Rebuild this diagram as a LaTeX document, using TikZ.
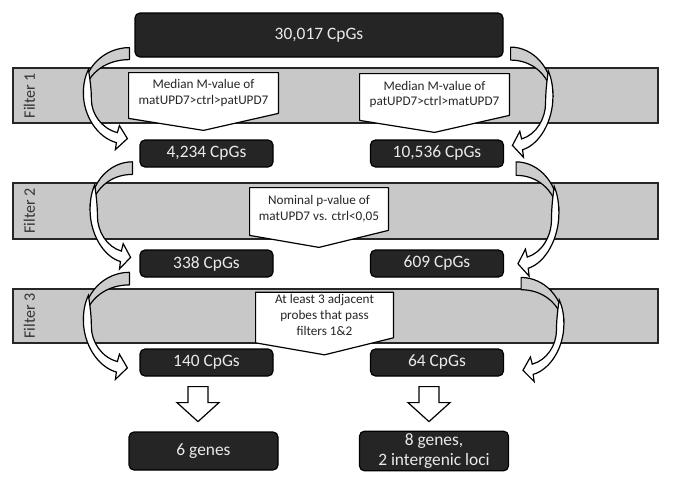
\documentclass[tikz,border=0pt]{standalone}
\usepackage{fontspec}
\setmainfont{Carlito}
\usetikzlibrary{calc,backgrounds}
\definecolor{boxdark}{HTML}{252525}
\definecolor{bargray}{HTML}{C8C8C8}
\definecolor{boxtext}{HTML}{EAEAEA}
\tikzset{
  cpgbox/.style={rectangle, rounded corners=2.5pt, draw=black, fill=boxdark, text=boxtext, line width=0.6pt, minimum width=66.5pt, minimum height=13.5pt, inner sep=1pt, font=\fontsize{8.7}{10.4}\selectfont},
  genebox/.style={cpgbox, minimum width=74.5pt, minimum height=19pt, align=center},
  filterbar/.style={rectangle, draw=black!85, fill=bargray, line width=0.7pt, minimum width=322.5pt, minimum height=27.5pt},
  filterlabel/.style={rotate=90, text=black!80, font=\fontsize{8}{9.6}\selectfont},
  criterion/.style={rectangle, inner sep=1pt, align=center, text=black!85, font=\fontsize{6.6}{7.9}\selectfont},
  calloutshape/.style={draw=black, fill=white, line width=0.6pt, line join=round},
  arrowback/.style={draw=black, fill=bargray!90!white, line width=0.6pt, line join=round},
  arrowfront/.style={draw=black, fill=white, line width=0.6pt, line join=miter},
  blockarr/.style={draw=black, fill=white, line width=0.6pt, line join=miter},
  bendarrow/.pic={
    \filldraw[arrowback] (0,-6) .. controls (-25,-6) and (-46,14) .. (-46,40)
      .. controls (-41,18) and (-22,6) .. (0,6) -- cycle;
    \filldraw[arrowfront] (-41,16) .. controls (-45,24) and (-46,32) .. (-46,40)
      .. controls (-46,62) and (-32,84) .. (-13,89) -- (-14,96) -- (-2,85) -- (-10,72) -- (-12,79)
      .. controls (-28,75) and (-38,60) .. (-38,46) .. controls (-38,34) and (-40,22) .. (-41,16) -- cycle;
  }
}

\begin{document}
\begin{tikzpicture}[x=0.5pt, y=-0.5pt]
  \useasboundingbox (0,0) rectangle (675,487);
  % grey filter bands
  \begin{scope}[on background layer]
    \node[filterbar] (f1) at (335.5,95.5) {};
    \node[filterbar, minimum height=28pt] (f2) at (335.5,211) {};
    \node[filterbar, minimum height=27pt] (f3) at (335.5,316) {};
  \end{scope}
  \node[filterlabel] at ($(f1.west)+(17,0)$) {Filter 1};
  \node[filterlabel] at ($(f2.west)+(17,0)$) {Filter 2};
  \node[filterlabel] at ($(f3.west)+(17,0)$) {Filter 3};

  % filter criteria
  \node[criterion, minimum width=74.5pt, minimum height=20pt] (mmat) at (203.5,93) {Median M-value of\\matUPD7>ctrl>patUPD7};
  \node[criterion, minimum width=74.5pt, minimum height=20.5pt] (mpat) at (434.5,94.5) {Median M-value of\\patUPD7>ctrl>matUPD7};
  \node[criterion, minimum width=69pt, minimum height=21pt] (pval) at (319,209) {Nominal p-value of\\matUPD7 vs. ctrl<0,05};
  \node[criterion, minimum width=68.5pt, minimum height=21pt] (adj) at (324.5,315) {At least 3 adjacent\\probes that pass\\filters 1\&2};
  \begin{scope}[on background layer]
    \foreach \c in {mmat,mpat,pval,adj}
      \draw[calloutshape] (\c.north west) -- (\c.north east) -- (\c.south east) -- ($(\c.south)+(0,17)$) -- ($(\c.south west)+(0,5)$) -- cycle;
  \end{scope}

  % CpG counts
  \node[cpgbox, minimum width=184pt, minimum height=22pt] (all) at (319,35) {30,017 CpGs};
  \node[cpgbox] (c4234) at (206.5,153.5) {4,234 CpGs};
  \node[cpgbox] (c10536) at (437,153.5) {10,536 CpGs};
  \node[cpgbox] (c338) at (206.5,263.5) {338 CpGs};
  \node[cpgbox] (c609) at (437,263.5) {609 CpGs};
  \node[cpgbox] (c140) at (206.5,362.5) {140 CpGs};
  \node[cpgbox] (c64) at (437,362.5) {64 CpGs};
  \node[genebox] (g6) at (203.5,451) {6 genes};
  \node[genebox] (g8) at (434,451) {8 genes,\\2 intergenic loci};

  % curved arrows through the filters
  \pic at ($(all.south west)+(-5,-4)$) {bendarrow};
  \pic[xscale=0.92, yscale=1.05] at ($(c4234.south west)+(-7,0.5)$) {bendarrow};
  \pic[yscale=1.05] at ($(c338.south west)+(-10,1)$) {bendarrow};
  \pic[xscale=-0.92, yscale=1.08] at ($(all.south east)+(7,-4)$) {bendarrow};
  \pic[xscale=-0.93, yscale=1.12] at ($(c10536.south east)+(12,1)$) {bendarrow};
  \pic[xscale=-0.93, yscale=1.02] at ($(c609.south east)+(17,6)$) {bendarrow};

  % block arrows to the gene boxes
  \draw[blockarr] ($(c140.south)+(-18.5,10)$) -- ++(20,0) -- ++(0,16) -- ++(11,0) -- ++(-21,19) -- ++(-21,-19) -- ++(11,0) -- cycle;
  \draw[blockarr] ($(c64.south)+(-18,10)$) -- ++(20,0) -- ++(0,16) -- ++(11,0) -- ++(-21,19) -- ++(-21,-19) -- ++(11,0) -- cycle;
\end{tikzpicture}
\end{document}
